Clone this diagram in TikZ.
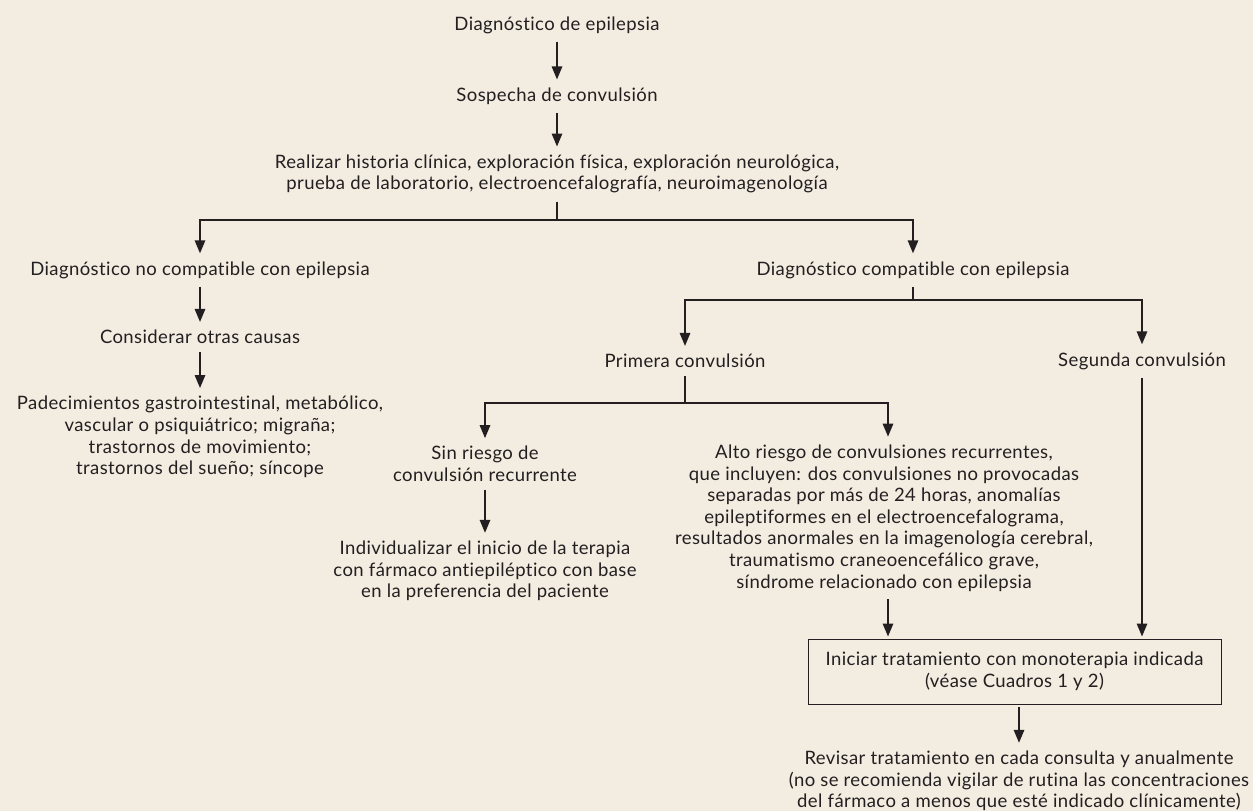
\documentclass[tikz,border=0pt]{standalone}
\usepackage{fontspec}
\setmainfont[Ligatures=NoCommon,LetterSpace=2.2]{Lato}
\usetikzlibrary{arrows.meta}
\definecolor{bg}{HTML}{F2ECE1}
\definecolor{ink}{HTML}{231F20}
\begin{document}
\begin{tikzpicture}[x=1pt,y=-1pt,
  txt/.style={inner sep=0pt,align=center,text=ink,font=\fontsize{18.5}{21.6}\selectfont},
  arr/.style={draw=ink,line width=1.5pt,-{Triangle[length=13pt,width=10.5pt]},shorten <=8pt,shorten >=8pt},
  lin/.style={draw=ink,line width=1.5pt},
  boxst/.style={draw=ink,line width=1pt,minimum width=413pt,minimum height=65pt,align=center,text=ink,font=\fontsize{18.5}{21.6}\selectfont,inner sep=0pt}]
\fill[bg] (0,0) rectangle (1253,811);
\useasboundingbox (0,0) rectangle (1253,811);
\node[txt] (n1) at (557,25) {Diagnóstico de epilepsia};
\node[txt] (n2) at (557,96) {Sospecha de convulsión};
\node[txt] (n3) at (557,174) {Realizar historia clínica, exploración física, exploración neurológica,\\prueba de laboratorio, electroencefalografía, neuroimagenología};
\node[txt] (n4) at (200,270) {Diagnóstico no compatible con epilepsia};
\node[txt] (n5) at (913,270) {Diagnóstico compatible con epilepsia};
\node[txt] (n6) at (200,337) {Considerar otras causas};
\node[txt] (n7) at (200,437) {Padecimientos gastrointestinal, metabólico,\\vascular o psiquiátrico; migraña;\\trastornos de movimiento;\\trastornos del sueño; síncope};
\node[txt] (n8) at (685,361) {Primera convulsión};
\node[txt] (n9) at (1142,361) {Segunda convulsión};
\node[txt] (n10) at (485,464) {Sin riesgo de\\convulsión recurrente};
\node[txt] (n11) at (485,571) {Individualizar el inicio de la terapia\\con fármaco antiepiléptico con base\\en la preferencia del paciente};
\node[txt] (n12) at (884,518) {Alto riesgo de convulsiones recurrentes,\\que incluyen: dos convulsiones no provocadas\\separadas por más de 24 horas, anomalías\\epileptiformes en el electroencefalograma,\\resultados anormales en la imagenología cerebral,\\traumatismo craneoencefálico grave,\\síndrome relacionado con epilepsia};
\node[boxst] (bx) at (1014.5,671.5) {Iniciar tratamiento con monoterapia indicada\\(véase Cuadros 1 y 2)};
\node[txt] (n13) at (1019,781) {Revisar tratamiento en cada consulta y anualmente\\(no se recomienda vigilar de rutina las concentraciones\\del fármaco a menos que esté indicado clínicamente)};
\coordinate (j1) at (557,220);
\coordinate (j2) at (913,300);
\coordinate (j3) at (685,403);
\draw[arr] (n1) -- (n2);
\draw[arr] (n2) -- (n3);
\draw[lin,shorten <=8pt] (n3.south) -- (j1);
\draw[arr,shorten <=0pt] (j1) -| (n4);
\draw[arr,shorten <=0pt] (j1) -| (n5);
\draw[arr] (n4) -- (n6);
\draw[arr] (n6) -- (n7);
\draw[lin,shorten <=8pt] (n5.south) -- (j2);
\draw[arr,shorten <=0pt] (j2) -| (n8);
\draw[arr,shorten <=0pt] (j2) -| (n9);
\draw[lin,shorten <=8pt] (n8.south) -- (j3);
\draw[arr,shorten <=0pt] (j3) -| (n10);
\draw[arr,shorten <=0pt] (j3) -| (n12.north -| 888,0);
\draw[arr] (n10) -- (n11);
\draw[arr,shorten >=2pt] (n12.south -| 888,0) -- (bx.north -| 888,0);
\draw[arr,shorten >=2pt] (n9) -- (n9 |- bx.north);
\draw[arr,shorten <=2pt] (bx.south -| n13) -- (n13);
\end{tikzpicture}
\end{document}
